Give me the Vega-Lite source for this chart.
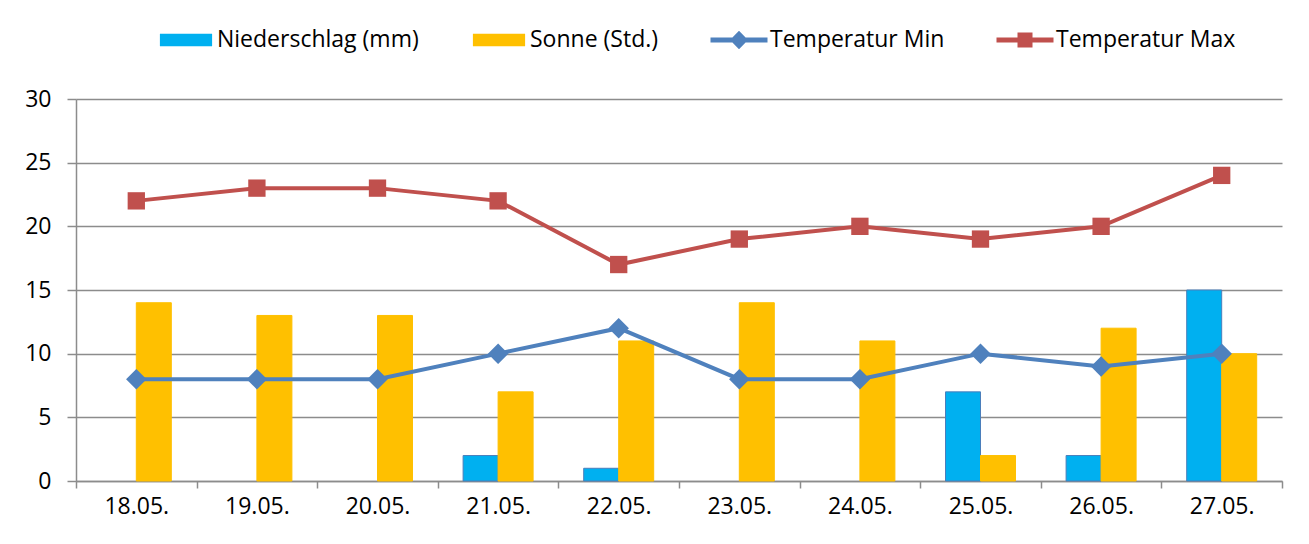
{
  "$schema": "https://vega.github.io/schema/vega-lite/v6.json",
  "width": 1206,
  "height": 382,
  "autosize": {"type": "none"},
  "padding": {"left": 76, "top": 99, "right": 27, "bottom": 63},
  "background": "white",
  "config": {
    "font": "Open Sans",
    "view": {"stroke": null},
    "axis": {
      "labelFont": "Open Sans",
      "labelFontSize": 23,
      "labelColor": "#000000",
      "domainColor": "#8c8c8c",
      "domainWidth": 1.5,
      "tickColor": "#8c8c8c",
      "tickWidth": 1.5,
      "gridColor": "#8c8c8c",
      "gridWidth": 1.5,
      "title": null
    }
  },
  "data": {
    "values": [
      {"date": "18.05.", "series": "Niederschlag (mm)", "value": 0},
      {"date": "19.05.", "series": "Niederschlag (mm)", "value": 0},
      {"date": "20.05.", "series": "Niederschlag (mm)", "value": 0},
      {"date": "21.05.", "series": "Niederschlag (mm)", "value": 2},
      {"date": "22.05.", "series": "Niederschlag (mm)", "value": 1},
      {"date": "23.05.", "series": "Niederschlag (mm)", "value": 0},
      {"date": "24.05.", "series": "Niederschlag (mm)", "value": 0},
      {"date": "25.05.", "series": "Niederschlag (mm)", "value": 7},
      {"date": "26.05.", "series": "Niederschlag (mm)", "value": 2},
      {"date": "27.05.", "series": "Niederschlag (mm)", "value": 15},
      {"date": "18.05.", "series": "Sonne (Std.)", "value": 14},
      {"date": "19.05.", "series": "Sonne (Std.)", "value": 13},
      {"date": "20.05.", "series": "Sonne (Std.)", "value": 13},
      {"date": "21.05.", "series": "Sonne (Std.)", "value": 7},
      {"date": "22.05.", "series": "Sonne (Std.)", "value": 11},
      {"date": "23.05.", "series": "Sonne (Std.)", "value": 14},
      {"date": "24.05.", "series": "Sonne (Std.)", "value": 11},
      {"date": "25.05.", "series": "Sonne (Std.)", "value": 2},
      {"date": "26.05.", "series": "Sonne (Std.)", "value": 12},
      {"date": "27.05.", "series": "Sonne (Std.)", "value": 10},
      {"date": "18.05.", "series": "Temperatur Min", "value": 8},
      {"date": "19.05.", "series": "Temperatur Min", "value": 8},
      {"date": "20.05.", "series": "Temperatur Min", "value": 8},
      {"date": "21.05.", "series": "Temperatur Min", "value": 10},
      {"date": "22.05.", "series": "Temperatur Min", "value": 12},
      {"date": "23.05.", "series": "Temperatur Min", "value": 8},
      {"date": "24.05.", "series": "Temperatur Min", "value": 8},
      {"date": "25.05.", "series": "Temperatur Min", "value": 10},
      {"date": "26.05.", "series": "Temperatur Min", "value": 9},
      {"date": "27.05.", "series": "Temperatur Min", "value": 10},
      {"date": "18.05.", "series": "Temperatur Max", "value": 22},
      {"date": "19.05.", "series": "Temperatur Max", "value": 23},
      {"date": "20.05.", "series": "Temperatur Max", "value": 23},
      {"date": "21.05.", "series": "Temperatur Max", "value": 22},
      {"date": "22.05.", "series": "Temperatur Max", "value": 17},
      {"date": "23.05.", "series": "Temperatur Max", "value": 19},
      {"date": "24.05.", "series": "Temperatur Max", "value": 20},
      {"date": "25.05.", "series": "Temperatur Max", "value": 19},
      {"date": "26.05.", "series": "Temperatur Max", "value": 20},
      {"date": "27.05.", "series": "Temperatur Max", "value": 24}
    ]
  },
  "encoding": {
    "x": {
      "field": "date",
      "type": "ordinal",
      "sort": ["18.05.", "19.05.", "20.05.", "21.05.", "22.05.", "23.05.", "24.05.", "25.05.", "26.05.", "27.05."],
      "scale": {"paddingInner": 0, "paddingOuter": 0},
      "axis": {
        "labelAngle": 0,
        "tickBand": "extent",
        "tickSize": 7,
        "labelPadding": 7,
        "grid": false
      }
    },
    "y": {
      "field": "value",
      "type": "quantitative",
      "scale": {"domain": [0, 30], "nice": false},
      "axis": {
        "values": [0, 5, 10, 15, 20, 25, 30],
        "tickSize": 9,
        "labelPadding": 16,
        "grid": true
      }
    }
  },
  "layer": [
    {
      "transform": [
        {"filter": {"field": "series", "oneOf": ["Niederschlag (mm)", "Sonne (Std.)"]}},
        {"filter": "datum.value > 0"}
      ],
      "mark": {"type": "bar", "strokeWidth": 1},
      "encoding": {
        "xOffset": {
          "field": "series",
          "type": "nominal",
          "scale": {"domain": ["Niederschlag (mm)", "Sonne (Std.)"], "paddingInner": 0, "paddingOuter": 0.723}
        },
        "color": {
          "field": "series",
          "type": "nominal",
          "scale": {
            "domain": ["Niederschlag (mm)", "Sonne (Std.)", "Temperatur Min", "Temperatur Max"],
            "range": ["#00B0F0", "#FFC000", "#4F81BD", "#C0504D"]
          },
          "legend": {
            "title": null,
            "orient": "none",
            "direction": "horizontal",
            "legendX": 80,
            "legendY": -89,
            "padding": 0,
            "columnPadding": 50,
            "labelOffset": 1,
            "labelFont": "Open Sans",
            "labelFontSize": 23,
            "labelColor": "#000000",
            "labelLimit": 400,
            "symbolSize": 3600,
            "symbolOpacity": 1,
            "symbolStrokeWidth": 0,
            "symbolType": {"expr": "datum.value === 'Temperatur Min' ? 'M-0.95,-0.08H0.95V0.08H-0.95Z M0,-0.31L0.3,0L0,0.31L-0.3,0Z' : datum.value === 'Temperatur Max' ? 'M-0.95,-0.08H0.95V0.08H-0.95Z M-0.25,-0.25H0.25V0.25H-0.25Z' : 'M-0.87,-0.21H0.87V0.21H-0.87Z'"}
          }
        },
        "stroke": {
          "condition": {"test": "datum.series === 'Niederschlag (mm)'", "value": "#4A7EBB"},
          "value": "#FFC000"
        }
      }
    },
    {
      "transform": [
        {"filter": {"field": "series", "oneOf": ["Temperatur Min", "Temperatur Max"]}}
      ],
      "mark": {"type": "line", "strokeWidth": 4},
      "encoding": {
        "color": {"field": "series", "type": "nominal", "legend": null}
      }
    },
    {
      "transform": [
        {"filter": {"field": "series", "oneOf": ["Temperatur Min", "Temperatur Max"]}}
      ],
      "mark": {"type": "point", "filled": true, "opacity": 1},
      "encoding": {
        "color": {"field": "series", "type": "nominal", "legend": null},
        "shape": {
          "field": "series",
          "type": "nominal",
          "scale": {"domain": ["Temperatur Min", "Temperatur Max"], "range": ["diamond", "square"]},
          "legend": null
        },
        "size": {
          "field": "series",
          "type": "nominal",
          "scale": {"domain": ["Temperatur Min", "Temperatur Max"], "range": [420, 300]},
          "legend": null
        }
      }
    }
  ]
}
